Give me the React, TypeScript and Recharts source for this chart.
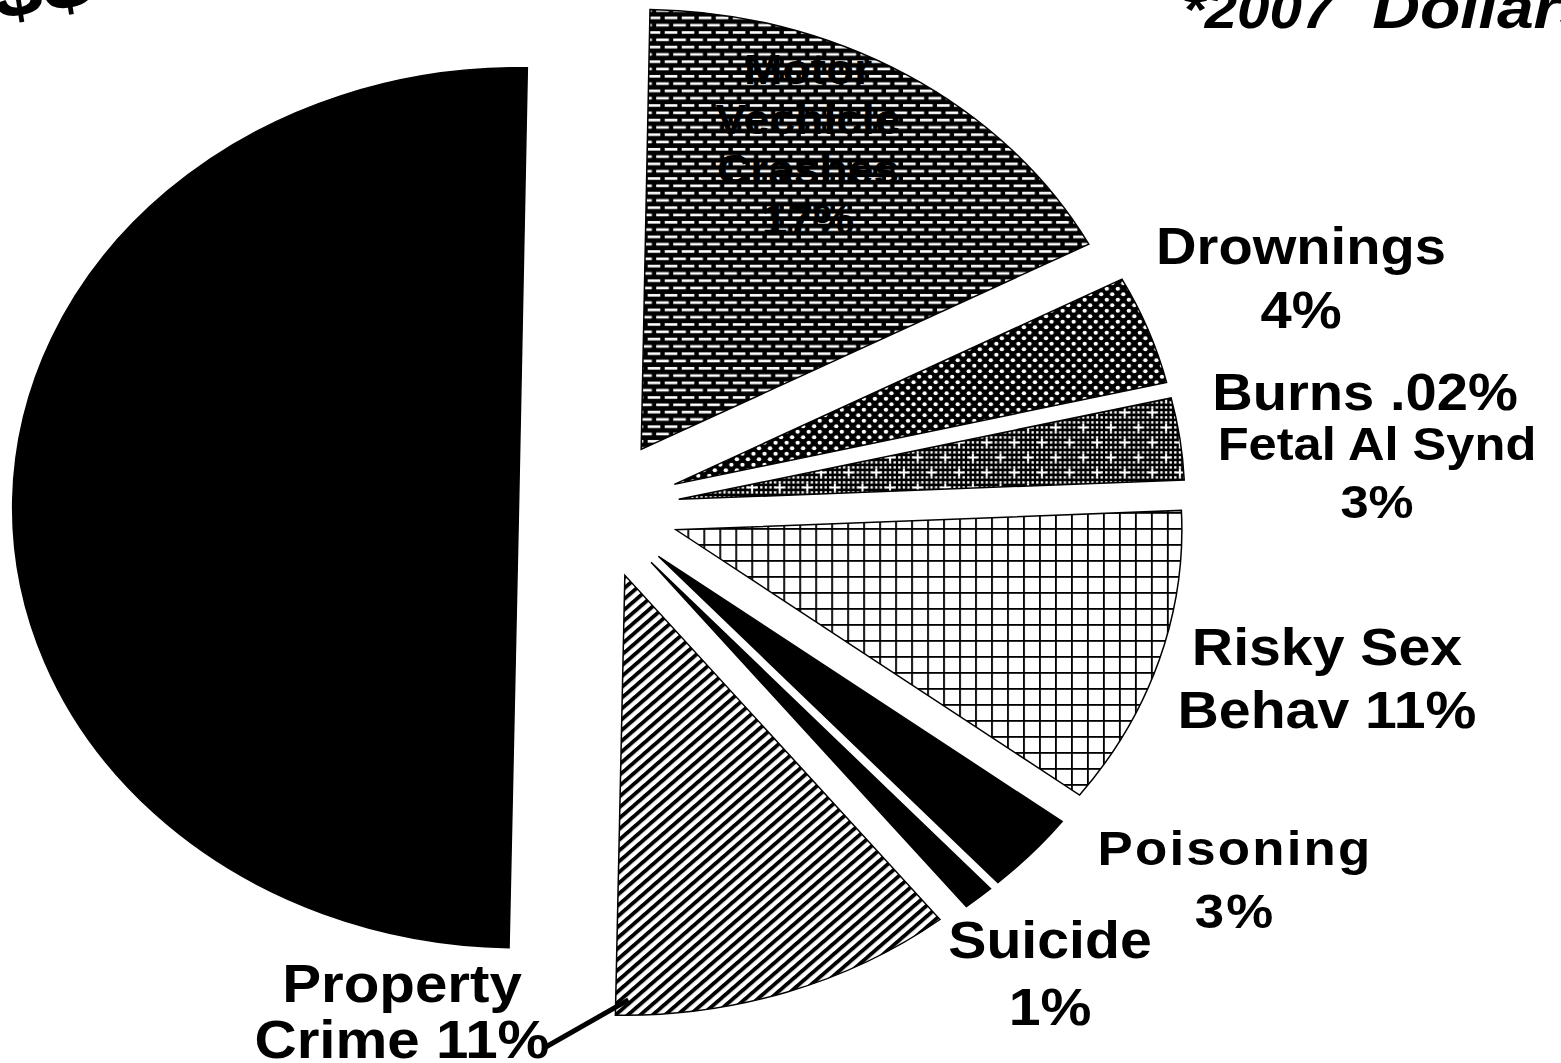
import React from 'react';
import { PieChart, Pie, Sector } from 'recharts';

// ---------- data ----------
const CATEGORIES = [
  'Motor Vechicle Crashes',
  'Drownings',
  'Burns',
  'Fetal Al Synd',
  'Risky Sex Behav',
  'Poisoning',
  'Suicide',
  'Property Crime',
  'Youth Violence',
];
const VALUES = [17, 4, 0.02, 3, 11, 3, 1, 11, 49.98];
const LABEL_LINES: string[][] = [
  ['Motor', 'Vechicle', 'Crashes', '17%'],
  ['Drownings', '4%'],
  ['Burns .02%'],
  ['Fetal Al Synd', '3%'],
  ['Risky Sex', 'Behav 11%'],
  ['Poisoning', '3%'],
  ['Suicide', '1%'],
  ['Property', 'Crime 11%'],
  [],
];
const TITLE_LEFT = '$$';
const TITLE_RIGHT_A = '*2007';
const TITLE_RIGHT_B = 'Dollars';

// ---------- layout / style ----------
const W = 1561;
const H = 1063;
const SX = 1.15; // horizontal stretch of the pie drawing
const TX = 1.1; // horizontal stretch of text
const PIE_CX = 599 / SX;
const PIE_CY = 509;
const RADIUS = 440;
const EXPLODE = 70;
const START_ANGLE = 89;
const FONT = '"Liberation Sans", Arial, Helvetica, sans-serif';
const FILLS = [
  'url(#pBricks)',
  'url(#pDots)',
  '#ffffff',
  'url(#pCross)',
  'url(#pGrid)',
  '#000000',
  '#000000',
  'url(#pStripes)',
  '#000000',
];
const STROKES = ['#000', '#000', 'none', '#000', '#000', '#000', '#000', '#000', '#000'];
const LABEL_LAYOUT: ({ x: number; y: number; lh: number; fs: number; ls?: number } | null)[] = [
  { x: 808, y: 84, lh: 50, fs: 42 },
  { x: 1301, y: 264, lh: 64, fs: 51 },
  { x: 1365, y: 410, lh: 0, fs: 51 },
  { x: 1377, y: 460, lh: 58, fs: 46 },
  { x: 1327, y: 665, lh: 63, fs: 52 },
  { x: 1235, y: 865, lh: 63, fs: 48, ls: 2 },
  { x: 1050, y: 958, lh: 67, fs: 52 },
  { x: 402, y: 1002, lh: 56, fs: 53 },
  null,
];
const LEADER_START = { x: 544, y: 1048 };

const data = CATEGORIES.map((name, i) => ({ name, value: VALUES[i] }));

const RAD = Math.PI / 180;

const renderSlice = (props: any) => {
  const { cx, cy, midAngle, startAngle, endAngle, outerRadius, index } = props;
  const ox = cx + EXPLODE * Math.cos(-midAngle * RAD);
  const oy = cy + EXPLODE * Math.sin(-midAngle * RAD);
  const lay = LABEL_LAYOUT[index];
  const lines = LABEL_LINES[index] || [];
  let leader: React.ReactNode = null;
  if (index === 7) {
    const a = endAngle + 1.5;
    const r = outerRadius * 0.965;
    const px = SX * (ox + r * Math.cos(-a * RAD));
    const py = oy + r * Math.sin(-a * RAD);
    leader = (
      <line x1={LEADER_START.x} y1={LEADER_START.y} x2={px} y2={py} stroke="#000" strokeWidth={5} />
    );
  }
  return (
    <g>
      <g transform={`scale(${SX} 1)`}>
        <Sector
          cx={ox}
          cy={oy}
          innerRadius={0}
          outerRadius={outerRadius}
          startAngle={startAngle}
          endAngle={endAngle}
          fill={FILLS[index]}
          stroke={STROKES[index]}
          strokeWidth={1.5}
          vectorEffect="non-scaling-stroke"
        />
      </g>
      {leader}
      {lay &&
        lines.map((t, i) => (
          <text
            key={i}
            transform={`translate(${lay.x} ${lay.y + i * lay.lh}) scale(${TX} 1)`}
            textAnchor="middle"
            fontFamily={FONT}
            fontWeight={700}
            fontSize={lay.fs}
            letterSpacing={lay.ls || 0}
            fill="#000"
          >
            {t}
          </text>
        ))}
    </g>
  );
};

const crossSquares: React.ReactNode[] = [];
for (let i = 0; i < 6; i++) {
  for (let j = 0; j < 6; j++) {
    crossSquares.push(
      <rect key={`${i}-${j}`} x={i * 4 + 1} y={j * 5 + 1.2} width={2} height={2.4} fill="#fff" />
    );
  }
}

export default function App() {
  return (
    <div style={{ position: 'absolute', left: 0, top: 0, width: W, height: H, background: '#fff', overflow: 'hidden' }}>
      <PieChart width={W} height={H} margin={{ top: 0, right: 0, bottom: 0, left: 0 }}>
        <Pie
          data={data}
          dataKey="value"
          nameKey="name"
          cx={PIE_CX}
          cy={PIE_CY}
          innerRadius={0}
          outerRadius={RADIUS}
          startAngle={START_ANGLE}
          endAngle={START_ANGLE - 360}
          paddingAngle={0}
          fill="none"
          stroke="none"
          label={renderSlice}
          labelLine={false}
          isAnimationActive={false}
        />
      </PieChart>
      <svg
        width={W}
        height={H}
        style={{ position: 'absolute', left: 0, top: 0, pointerEvents: 'none' }}
      >
        <defs>
          <pattern id="pBricks" patternUnits="userSpaceOnUse" width={14.8} height={14.6}>
            <rect width={14.8} height={14.6} fill="#000" />
            <rect x={0.8} y={2} width={11} height={2.6} fill="#fff" />
            <rect x={8.2} y={9.3} width={11} height={2.6} fill="#fff" />
            <rect x={-6.6} y={9.3} width={11} height={2.6} fill="#fff" />
          </pattern>
          <pattern id="pDots" patternUnits="userSpaceOnUse" width={9.6} height={11}>
            <rect width={9.6} height={11} fill="#000" />
            <ellipse cx={2.4} cy={2.75} rx={1.9} ry={2.1} fill="#fff" />
            <ellipse cx={7.2} cy={8.25} rx={1.9} ry={2.1} fill="#fff" />
          </pattern>
          <pattern id="pCross" patternUnits="userSpaceOnUse" width={24} height={30}>
            <rect width={24} height={30} fill="#000" />
            {crossSquares}
            <rect x={2.5} y={6.5} width={7} height={2} fill="#fff" />
            <rect x={5.1} y={3.5} width={1.8} height={8} fill="#fff" />
            <rect x={14.5} y={21.5} width={7} height={2} fill="#fff" />
            <rect x={17.1} y={18.5} width={1.8} height={8} fill="#fff" />
          </pattern>
          <pattern id="pGrid" patternUnits="userSpaceOnUse" width={13.9} height={16}>
            <rect width={13.9} height={16} fill="#fff" />
            <rect x={0} y={0} width={1.6} height={16} fill="#000" />
            <rect x={0} y={0} width={13.9} height={1.8} fill="#000" />
          </pattern>
          <pattern id="pStripes" patternUnits="userSpaceOnUse" width={7.6} height={7.6} patternTransform="rotate(45)">
            <rect width={7.6} height={7.6} fill="#fff" />
            <rect x={0} y={0} width={3.6} height={7.6} fill="#000" />
          </pattern>
        </defs>
        <text
          transform={`translate(-4 20) rotate(-9) scale(${TX} 1)`}
          fontFamily={FONT}
          fontWeight={700}
          fontSize={82}
          fill="#000"
        >
          {TITLE_LEFT}
        </text>
        <text
          transform={`translate(1182 28) scale(${TX} 1)`}
          fontFamily={FONT}
          fontWeight={700}
          fontStyle="italic"
          fontSize={53}
          fill="#000"
        >
          <tspan>{TITLE_RIGHT_A}</tspan>
          <tspan x={173} fontSize={60}>{TITLE_RIGHT_B}</tspan>
        </text>
      </svg>
    </div>
  );
}
